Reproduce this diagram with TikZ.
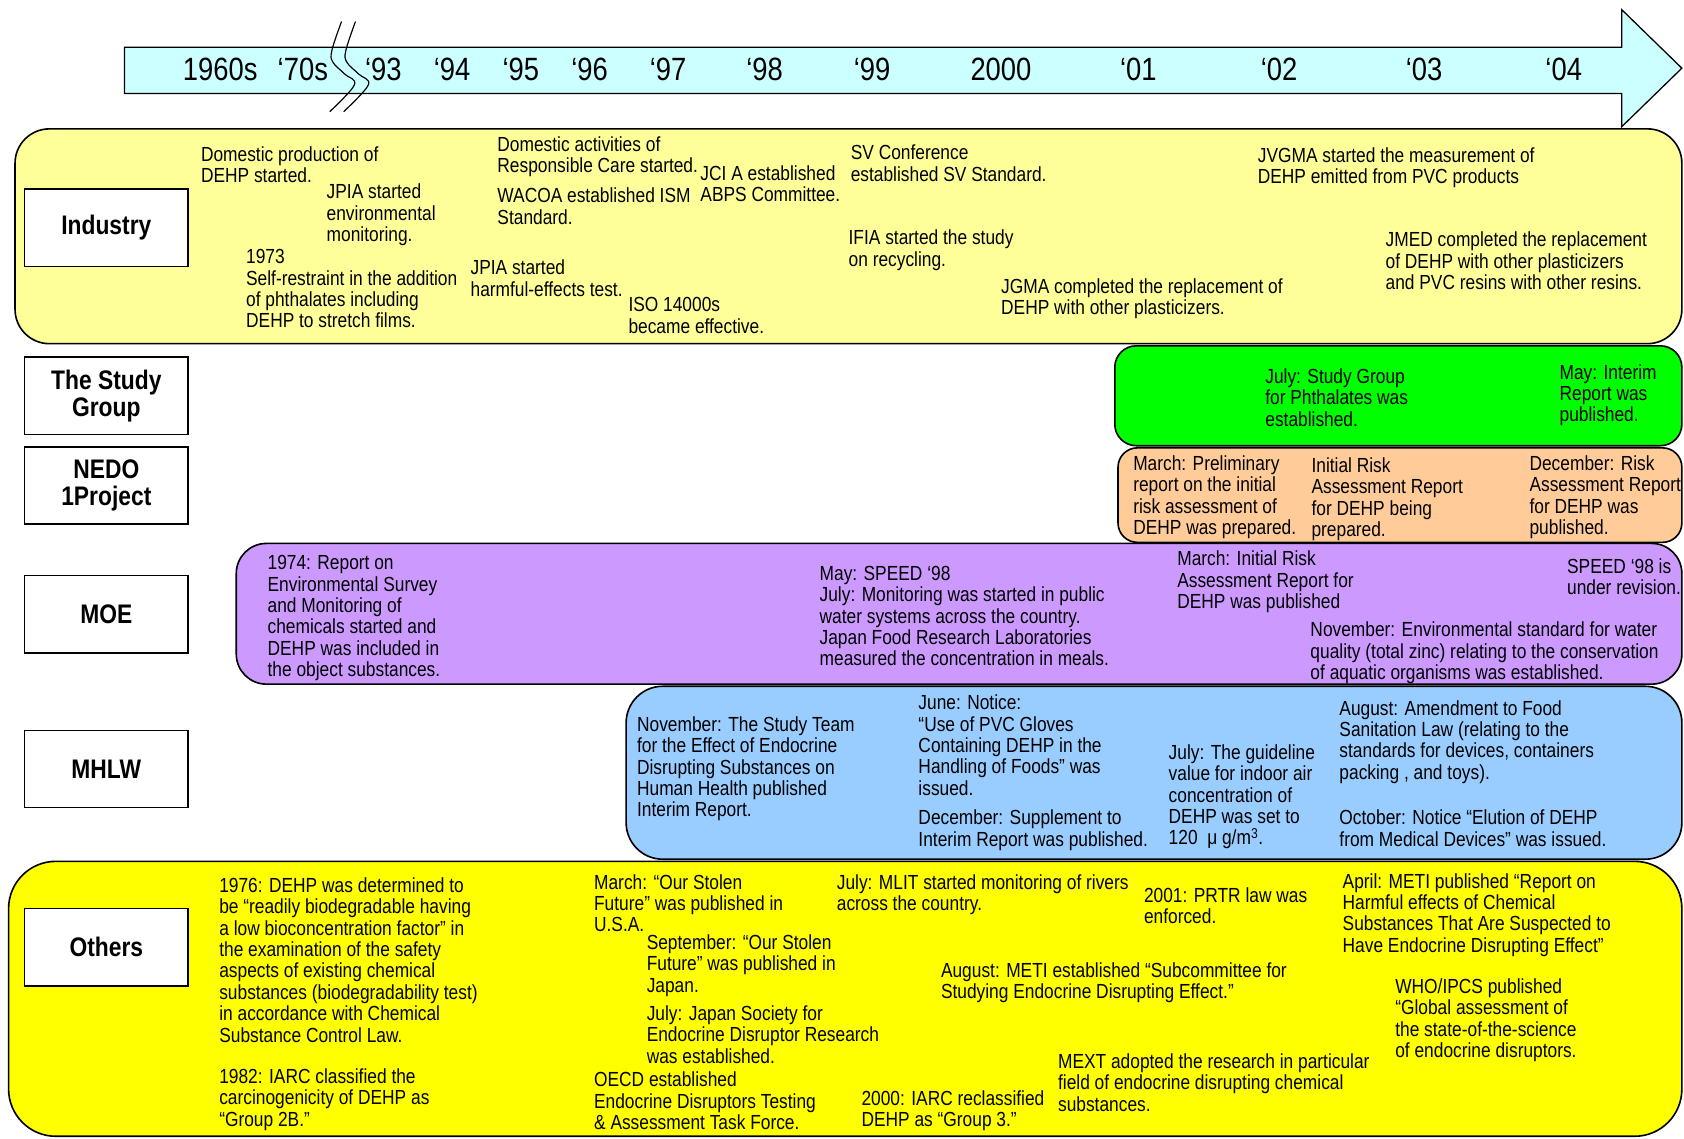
\documentclass[tikz,border=0pt]{standalone}
\usepackage{fontspec}
\setmainfont{Liberation Sans}
\newfontfamily\nar{Liberation Sans}[FakeStretch=0.85]
\definecolor{arrowC}{HTML}{CCFFFF}
\definecolor{indC}{HTML}{FFFF99}
\definecolor{stuC}{HTML}{00FF00}
\definecolor{nedC}{HTML}{FFCC99}
\definecolor{moeC}{HTML}{CC99FF}
\definecolor{mhlC}{HTML}{99CCFF}
\definecolor{othC}{HTML}{FFFF00}
\newcommand\evt[4]{\node[txt] (#1) at (#2,#3) {#4};}
\begin{document}
\begin{tikzpicture}[x=1pt,y=-1pt,
  txt/.style={anchor=north west, inner sep=0pt, align=left, font=\nar\fontsize{19}{19.9}\selectfont},
  lab/.style={draw, fill=white, line width=1.4pt, minimum width=152pt, minimum height=72pt, inner sep=0pt, align=center, font=\nar\bfseries\fontsize{25}{25}\selectfont},
  band/.style={draw, line width=1.5pt},
  brk/.style={line width=1.1pt, smooth, tension=0.6},
  yr/.style={inner sep=0pt, font=\nar\fontsize{30}{30}\selectfont}]
\useasboundingbox (0,0) rectangle (1568,1060);
% timeline arrow
\draw[line width=1.2pt, fill=arrowC] (116,44) -- (1510,44) -- (1510,9) -- (1566,63.5) -- (1510,118) -- (1510,87) -- (116,87) -- cycle;
% break symbol
\draw[brk] plot coordinates {(318,20) (309,47) (310,58) (321,69) (330,79) (307,104)};
\draw[brk] plot coordinates {(331,20) (322,47) (323,58) (334,69) (343,79) (320,104)};
% years
\node[yr] (y60) at (205,65) {1960s};
\node[yr] (y70) at (282,65) {‘70s};
\node[yr] (y93) at (357,65) {‘93};
\node[yr] (y94) at (421,65) {‘94};
\node[yr] (y95) at (485,65) {‘95};
\node[yr] (y96) at (549,65) {‘96};
\node[yr] (y97) at (622,65) {‘97};
\node[yr] (y98) at (712,65) {‘98};
\node[yr] (y99) at (812,65) {‘99};
\node[yr] (y00) at (932,65) {2000};
\node[yr] (y01) at (1060,65) {‘01};
\node[yr] (y02) at (1191,65) {‘02};
\node[yr] (y03) at (1326,65) {‘03};
\node[yr] (y04) at (1456,65) {‘04};
% bands
\draw[band, fill=indC, rounded corners=32pt] (14,120) rectangle (1566,320);
\draw[band, fill=stuC, rounded corners=20pt] (1038,322) rectangle (1566,415);
\draw[band, fill=nedC, rounded corners=18pt] (1041,417) rectangle (1566,505);
\draw[band, fill=moeC, rounded corners=28pt] (220,506) rectangle (1566,637);
\draw[band, fill=mhlC, rounded corners=34pt] (583,639) rectangle (1566,800);
\draw[band, fill=othC, rounded corners=44pt] (8,802) rectangle (1566,1058);
% row labels
\node[lab] (lInd) at (99,212) {Industry};
\node[lab] (lStu) at (99,368.5) {The Study\\Group};
\node[lab] (lNed) at (99,452) {NEDO\\1Project};
\node[lab] (lMoe) at (99,572) {MOE};
\node[lab] (lMhl) at (99,716) {MHLW};
\node[lab] (lOth) at (99,882) {Others};
% Industry
\evt{t1}{187}{136}{Domestic production of\\DEHP started.}
\evt{t2}{304}{171}{JPIA started\\environmental\\monitoring.}
\evt{t3}{229}{232}{1973\\Self-restraint in the addition\\of phthalates including\\DEHP to stretch films.}
\evt{t4}{463}{127}{Domestic activities of\\Responsible Care started.}
\evt{t5}{463}{175}{WACOA established ISM\\Standard.}
\evt{t6}{652}{154}{JCI A established\\ABPS Committee.}
\evt{t7}{438}{242}{JPIA started\\harmful-effects test.}
\evt{t8}{585}{277}{ISO 14000s\\became effective.}
\evt{t9}{792}{135}{SV Conference\\established SV Standard.}
\evt{t10}{790}{214}{IFIA started the study\\on recycling.}
\evt{t11}{932}{259}{JGMA completed the replacement of\\DEHP with other plasticizers.}
\evt{t12}{1171}{137}{JVGMA started the measurement of\\DEHP emitted from PVC products}
\evt{t13}{1290}{216}{JMED completed the replacement\\of DEHP with other plasticizers\\and PVC resins with other resins.}
% Study group
\evt{t14}{1178}{343}{July: Study Group\\for Phthalates was\\established.}
\evt{t15}{1452}{339}{May: Interim\\Report was\\published.}
% NEDO
\evt{t16}{1055}{424}{March: Preliminary\\report on the initial\\risk assessment of\\DEHP was prepared.}
\evt{t17}{1221}{426}{Initial Risk\\Assessment Report\\for DEHP being\\prepared.}
\evt{t18}{1424}{424}{December: Risk\\Assessment Report\\for DEHP was\\published.}
% MOE
\evt{t19}{249}{517}{1974: Report on\\Environmental Survey\\and Monitoring of\\chemicals started and\\DEHP was included in\\the object substances.}
\evt{t20}{763}{527}{May: SPEED ‘98\\July: Monitoring was started in public\\water systems across the country.\\Japan Food Research Laboratories\\measured the concentration in meals.}
\evt{t21}{1096}{513}{March: Initial Risk\\Assessment Report for\\DEHP was published}
\evt{t22}{1459}{520}{SPEED ‘98 is\\under revision.}
\evt{t23}{1220}{579}{November: Environmental standard for water\\quality (total zinc) relating to the conservation\\of aquatic organisms was established.}
% MHLW
\evt{t24}{593}{667}{November: The Study Team\\for the Effect of Endocrine\\Disrupting Substances on\\Human Health published\\Interim Report.}
\evt{t25}{855}{647}{June: Notice:\\“Use of PVC Gloves\\Containing DEHP in the\\Handling of Foods” was\\issued.}
\evt{t26}{855}{754}{December: Supplement to\\Interim Report was published.}
\evt{t27}{1088}{693}{July: The guideline\\value for indoor air\\concentration of\\DEHP was set to\\120 \ μ g/m\textsuperscript{3}.}
\evt{t28}{1247}{652}{August: Amendment to Food\\Sanitation Law (relating to the\\standards for devices, containers\\packing , and toys).}
\evt{t29}{1247}{754}{October: Notice “Elution of DEHP\\from Medical Devices” was issued.}
% Others
\evt{t30}{204}{817}{1976: DEHP was determined to\\be “readily biodegradable having\\a low bioconcentration factor” in\\the examination of the safety\\aspects of existing chemical\\substances (biodegradability test)\\in accordance with Chemical\\Substance Control Law.}
\evt{t31}{204}{995}{1982: IARC classified the\\carcinogenicity of DEHP as\\“Group 2B.”}
\evt{t32}{553}{814}{March: “Our Stolen\\Future” was published in\\U.S.A.}
\evt{t33}{602}{870}{September: “Our Stolen\\Future” was published in\\Japan.}
\evt{t34}{602}{936}{July: Japan Society for\\Endocrine Disruptor Research\\was established.}
\evt{t35}{553}{998}{OECD established\\Endocrine Disruptors Testing\\\& Assessment Task Force.}
\evt{t36}{779}{814}{July: MLIT started monitoring of rivers\\across the country.}
\evt{t37}{1065}{826}{2001: PRTR law was\\enforced.}
\evt{t38}{876}{896}{August: METI established “Subcommittee for\\Studying Endocrine Disrupting Effect.”}
\evt{t39}{802}{1015}{2000: IARC reclassified\\DEHP as “Group 3.”}
\evt{t40}{985}{981}{MEXT adopted the research in particular\\field of endocrine disrupting chemical\\substances.}
\evt{t41}{1250}{813}{April: METI published “Report on\\Harmful effects of Chemical\\Substances That Are Suspected to\\Have Endocrine Disrupting Effect”}
\evt{t42}{1299}{911}{WHO/IPCS published\\“Global assessment of\\the state-of-the-science\\of endocrine disruptors.}
\end{tikzpicture}
\end{document}
